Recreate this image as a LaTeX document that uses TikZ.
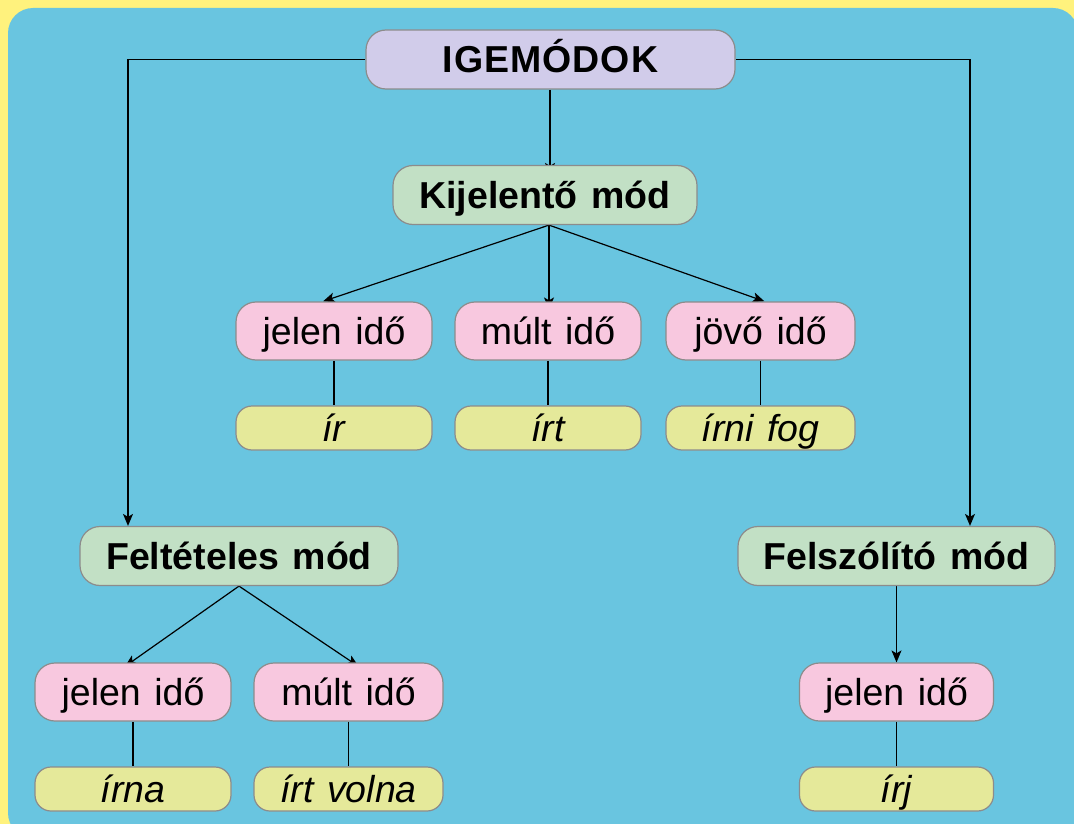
\documentclass[tikz,border=0pt]{standalone}
\usepackage{fontspec}
\setmainfont[WordSpace=1.3]{Liberation Sans}
\usetikzlibrary{arrows.meta,backgrounds}
\definecolor{bgyellow}{HTML}{FFF27D}
\definecolor{bgblue}{HTML}{69C5E0}
\definecolor{cpurple}{HTML}{D1CCEA}
\definecolor{cgreen}{HTML}{C2E0C5}
\definecolor{cpink}{HTML}{F8C8DF}
\definecolor{cyell}{HTML}{E5E99A}
\definecolor{boxgray}{HTML}{8C8C8C}
\begin{document}
\begin{tikzpicture}[x=1pt,y=-1pt,
  box/.style={draw=boxgray, line width=1.2pt, rounded corners=20pt, inner sep=0pt,
    text height=27pt, text depth=0pt, font=\fontsize{37.5}{45}\selectfont},
  topbox/.style={box, fill=cpurple, minimum height=59pt, font=\fontsize{37.5}{45}\selectfont\bfseries},
  modebox/.style={box, fill=cgreen, minimum height=59pt, font=\fontsize{37.5}{45}\selectfont\bfseries},
  tensebox/.style={box, fill=cpink, minimum height=58pt},
  formbox/.style={box, fill=cyell, minimum height=44pt, rounded corners=16pt, font=\fontsize{37.5}{45}\selectfont\itshape},
  arr/.style={-{Stealth[length=12pt,width=10pt,inset=3pt]}, line width=1.2pt, black},
  ln/.style={line width=1.2pt, black}]
\useasboundingbox (0,0) rectangle (1074,824);

\node[topbox, minimum width=369pt] (ige) at (550.5,59.5)
  {I\kern1pt G\kern1pt E\kern1pt M\kern1pt Ó\kern1pt D\kern1pt O\kern1pt K};
\node[modebox, minimum width=304pt] (kij) at (545,195) {Kijelentő mód};
\node[tensebox, minimum width=196pt] (kj) at (334,331) {jelen idő};
\node[tensebox, minimum width=186pt] (km) at (548,331) {múlt idő};
\node[tensebox, minimum width=189pt] (kjo) at (760.5,331) {jövő idő};
\node[formbox, minimum width=196pt] (f1) at (334,428) {ír};
\node[formbox, minimum width=186pt] (f2) at (548,428) {írt};
\node[formbox, minimum width=189pt] (f3) at (760.5,428) {írni fog};
\node[modebox, minimum width=318pt] (fel) at (239,556) {Feltételes mód};
\node[tensebox, minimum width=196pt] (fj) at (133,692) {jelen idő};
\node[tensebox, minimum width=189pt] (fm) at (348.5,692) {múlt idő};
\node[formbox, minimum width=196pt] (f4) at (133,789) {írna};
\node[formbox, minimum width=189pt] (f5) at (348.5,789) {írt volna};
\node[modebox, minimum width=317pt] (fsz) at (896.5,556) {Felszólító mód};
\node[tensebox, minimum width=194pt] (zj) at (896.5,692) {jelen idő};
\node[formbox, minimum width=194pt] (f6) at (896.5,789) {írj};

\coordinate (t1) at (550,0 |- kij.north);
\coordinate (s1) at (550,0 |- ige.south);
\coordinate (s2) at (549,0 |- kij.south);
\coordinate (t2) at (549,0 |- km.north);

\begin{scope}[on background layer]
  \fill[bgyellow] (0,0) rectangle (1074,824);
  \begin{scope}
    \clip (0,0) rectangle (1074,824);
    \fill[bgblue, rounded corners=25pt] (8,8) rectangle (1078,838);
  \end{scope}
  \draw[arr] (ige.west) -| ([xshift=-111pt]fel.north);
  \draw[arr] (ige.east) -| ([xshift=73.5pt]fsz.north);
  \draw[arr] (s1) -- ([yshift=-10pt]t1);
  \draw[arr] (s2) -- ([xshift=-11pt]kj.north);
  \draw[arr] (s2) -- ([yshift=-8pt]t2);
  \draw[arr] (s2) -- ([xshift=4pt]kjo.north);
  \draw[ln] (kj) -- (f1);
  \draw[ln] (km) -- (f2);
  \draw[ln] (kjo) -- (f3);
  \draw[arr] (fel.south) -- ([xshift=-8pt,yshift=-4pt]fj.north);
  \draw[arr] (fel.south) -- ([xshift=10pt,yshift=-4pt]fm.north);
  \draw[arr] (fsz.south) -- (zj.north);
  \draw[ln] (fj) -- (f4);
  \draw[ln] (fm) -- (f5);
  \draw[ln] (zj) -- (f6);
\end{scope}
\end{tikzpicture}
\end{document}
